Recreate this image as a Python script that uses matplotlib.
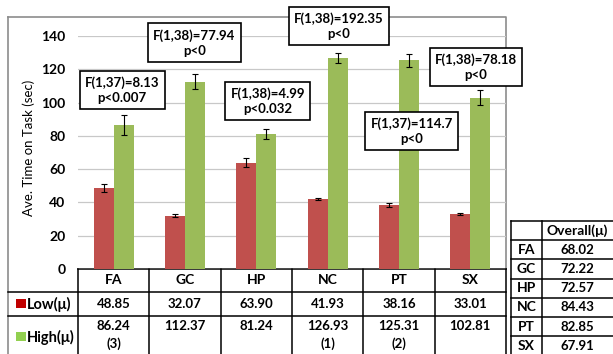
import matplotlib

matplotlib.use("Agg")
import matplotlib.pyplot as plt
import numpy as np

plt.rcParams["font.family"] = ["Lato", "DejaVu Sans"]

W, H = 613, 354

categories = ["FA", "GC", "HP", "NC", "PT", "SX"]
low = [48.85, 32.07, 63.90, 41.93, 38.16, 33.01]
high = [86.24, 112.37, 81.24, 126.93, 125.31, 102.81]
low_err = [2.5, 0.8, 2.5, 0.7, 1.2, 0.5]
high_err = [6.0, 4.5, 3.0, 3.0, 4.0, 4.5]
high_rank = ["(3)", "", "", "(1)", "(2)", ""]
overall = [68.02, 72.22, 72.57, 84.43, 82.85, 67.91]
stats = [
    "F(1,37)=8.13\np<0.007",
    "F(1,38)=77.94\np<0",
    "F(1,38)=4.99\np<0.032",
    "F(1,38)=192.35\np<0",
    "F(1,37)=114.7\np<0",
    "F(1,38)=78.18\np<0",
]
# box centres in data coords (x = category position, y = seconds)
stat_pos = [(0.12, 107.5), (1.13, 136), (2.16, 101), (3.16, 146), (4.18, 83), (5.08, 121.5)]

C_LOW = "#C0504D"
C_HIGH = "#9BBB59"
C_LOW_KEY = "#C00000"
C_HIGH_KEY = "#92D050"
C_FRAME = "#8C8C8C"
C_GRID = "#C8C8C8"

fig = plt.figure(figsize=(W / 100, H / 100), dpi=100)

# pixel-space canvas for frame and tables
bg = fig.add_axes([0, 0, 1, 1])
bg.set_xlim(0, W)
bg.set_ylim(H, 0)
bg.axis("off")

X0, X1 = 78, 506
Y0 = 269
col_w = (X1 - X0) / len(categories)

# chart frame
bg.plot([8, X1, X1], [17, 17, Y0], color=C_FRAME, lw=1.2)
bg.plot([8, 8], [17, H], color=C_FRAME, lw=1.2)

# data table below chart
rows_y = [269, 292, 316]
bg.plot([X0, X1], [rows_y[0]] * 2, color="black", lw=1.1)
for y in rows_y[1:]:
    bg.plot([8, X1], [y, y], color="black", lw=1.1)
for i in range(len(categories) + 1):
    x = X0 + i * col_w
    bg.plot([x, x], [Y0, H], color="black", lw=1.1)

num = dict(fontsize=9.5, fontweight="bold", ha="center", va="center")
lab = dict(fontsize=10, fontweight="bold", ha="center", va="center")
for i, cat in enumerate(categories):
    cx = X0 + (i + 0.5) * col_w
    bg.text(cx, 280.5, cat, **lab)
    bg.text(cx, 304, f"{low[i]:.2f}", **num)
    bg.text(cx, 326.5, f"{high[i]:.2f}", **num)
    if high_rank[i]:
        bg.text(cx, 343.5, high_rank[i], **num)

bg.add_patch(plt.Rectangle((16, 299), 10, 9, color=C_LOW_KEY, lw=0))
bg.text(27, 304, "Low(\u03bc)", fontsize=10.5, fontweight="bold", va="center")
bg.add_patch(plt.Rectangle((16, 332), 10, 9, color=C_HIGH_KEY, lw=0))
bg.text(27, 337, "High(\u03bc)", fontsize=10.5, fontweight="bold", va="center")

# overall table on the right
TX0, TX1, TX2 = 511, 542, 620
ty = [221 + k * 19.2 for k in range(8)]
for y in ty:
    bg.plot([TX0, TX2], [y, y], color="black", lw=1.1)
for x in [TX0, TX1]:
    bg.plot([x, x], [ty[0], H], color="black", lw=1.1)
bg.text(577, (ty[0] + ty[1]) / 2, "Overall(\u03bc)", **lab)
for k, (cat, v) in enumerate(zip(categories, overall)):
    yc = (ty[k + 1] + ty[k + 2]) / 2
    bg.text(526.5, yc, cat, **lab)
    bg.text(577, yc, f"{v:.2f}", **num)

# bar chart
ax = fig.add_axes([X0 / W, (H - Y0) / H, (X1 - X0) / W, 233 / H])
ax.patch.set_alpha(0)
x = np.arange(len(categories))
bw = 0.28
ax.bar(x - 0.14, low, bw, color=C_LOW, zorder=2)
ax.bar(x + 0.14, high, bw, color=C_HIGH, zorder=2)
ax.errorbar(x - 0.14, low, yerr=low_err, fmt="none", ecolor="black",
            elinewidth=0.8, capsize=2.5, capthick=0.8, zorder=3)
ax.errorbar(x + 0.14, high, yerr=high_err, fmt="none", ecolor="black",
            elinewidth=0.8, capsize=2.5, capthick=0.8, zorder=3)

ax.set_xlim(-0.5, len(categories) - 0.5)
ax.set_ylim(0, 140)
ax.set_yticks(range(0, 141, 20))
ax.set_xticks([])
ax.tick_params(axis="y", length=0, pad=9, labelsize=10)
for t in ax.get_yticklabels():
    t.set_fontweight("bold")
for s in ax.spines.values():
    s.set_visible(False)
ax.grid(axis="y", color=C_GRID, lw=0.9, zorder=0)
ax.set_ylabel("Ave. Time on Task (sec)", fontsize=9.5)
ax.yaxis.set_label_coords((35 - X0) / (X1 - X0), 0.52)

for txt, (px, py) in zip(stats, stat_pos):
    ax.text(px, py, txt, ha="center", va="center", fontsize=9.5,
            fontweight="bold", linespacing=1.3, clip_on=False, zorder=5,
            bbox=dict(boxstyle="square,pad=0.4", fc="white", ec="black", lw=1.2))

fig.savefig("out.png", dpi=100)
